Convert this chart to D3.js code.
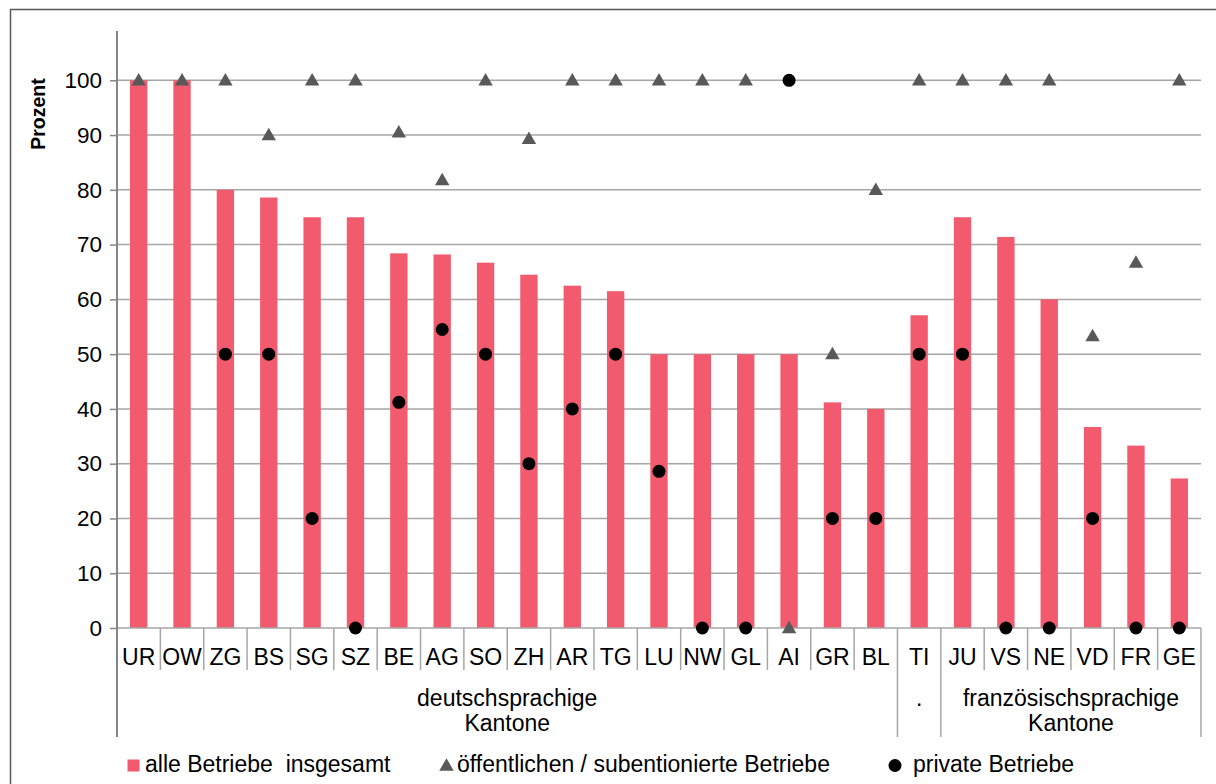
<!DOCTYPE html>
<html>
<head>
<meta charset="utf-8">
<script src="https://cdn.jsdelivr.net/npm/d3@7"></script>
<style>
  html, body { margin: 0; padding: 0; background: #fff; }
  svg { display: block; font-family: "Liberation Sans", Arial, sans-serif; }
  text { white-space: pre; }
</style>
</head>
<body>
<svg id="chart" width="1216" height="784"></svg>
<script>
// Kantone (x-axis categories)
const categories = ["UR","OW","ZG","BS","SG","SZ","BE","AG","SO","ZH","AR","TG","LU","NW","GL","AI","GR","BL","TI","JU","VS","NE","VD","FR","GE"];

// Anteil in Prozent: alle Betriebe insgesamt (bars)
const alleBetriebe = [100,100,80,78.6,75,75,68.4,68.2,66.7,64.5,62.5,61.5,50,50,50,50,41.2,40,57.1,75,71.4,60,36.7,33.3,27.3];

// öffentliche / subventionierte Betriebe (triangles)
const oeffentlich = [100,100,100,90,100,100,90.5,81.8,100,89.3,100,100,100,100,100,0,50,80,100,100,100,100,53.3,66.7,100];

// private Betriebe (dots); null = kein Wert
const privat = [null,null,50,50,20,0,41.2,54.5,50,30,40,50,28.6,0,0,100,20,20,50,50,0,0,20,0,0];

// y-axis tick labels
const yTicks = [0,10,20,30,40,50,60,70,80,90,100];

// Sprachgruppen: label lines, first and last canton
const groups = [
  { lines: ["deutschsprachige", "Kantone"], from: "UR", to: "BL" },
  { lines: ["."], from: "TI", to: "TI" },
  { lines: ["französischsprachige", "Kantone"], from: "JU", to: "GE" }
];

const legendItems = [
  { type: "bar", label: "alle Betriebe  insgesamt" },
  { type: "tri", label: "öffentlichen / subentionierte Betriebe" },
  { type: "dot", label: "private Betriebe" }
];

const colBar = "#F25B6E";
const colTri = "#595959";
const colDot = "#000000";
const colGrid = "#A6A6A6";
const colAxis = "#868686";
const fontSize = 23;

const svg = d3.select("#chart");

const plot = { left: 117, right: 1201, top: 31, bottom: 628 };

const x = d3.scaleBand()
  .domain(categories)
  .range([plot.left, plot.right])
  .paddingInner(0.6)
  .paddingOuter(0.3);
const step = x.step();
const cx = c => x(c) + x.bandwidth() / 2;

const y = d3.scaleLinear().domain([0, 109]).range([plot.bottom, plot.top]);

// outer frame
svg.append("path")
  .attr("d", `M10.5,784 V9.5 H1216`)
  .attr("fill", "none")
  .attr("stroke", "#595959")
  .attr("stroke-width", 1.5);

// horizontal gridlines
svg.append("g").selectAll("line")
  .data(yTicks.filter(t => t > 0))
  .join("line")
  .attr("x1", plot.left).attr("x2", plot.right)
  .attr("y1", d => y(d)).attr("y2", d => y(d))
  .attr("stroke", colGrid).attr("stroke-width", 1.5);

// y axis with outside ticks
const yAxis = d3.axisLeft(y).tickValues(yTicks).tickSize(7).tickPadding(8);
const gy = svg.append("g").attr("transform", `translate(${plot.left},0)`).call(yAxis);
gy.select(".domain").remove();
gy.selectAll(".tick line").attr("stroke", colAxis).attr("stroke-width", 1.5);
gy.selectAll(".tick text")
  .attr("font-size", 22.5)
  .attr("fill", "#000")
  .attr("font-family", "Liberation Sans, Arial, sans-serif");

// y-axis title
svg.append("text")
  .attr("transform", `translate(45,114) rotate(-90)`)
  .attr("text-anchor", "middle")
  .attr("font-size", 19.5)
  .attr("font-weight", "bold")
  .text("Prozent");

// bars
svg.append("g").selectAll("rect")
  .data(categories)
  .join("rect")
  .attr("x", c => x(c))
  .attr("width", x.bandwidth())
  .attr("y", (c, i) => y(alleBetriebe[i]))
  .attr("height", (c, i) => y(0) - y(alleBetriebe[i]))
  .attr("fill", colBar);

// baseline (x axis)
svg.append("line")
  .attr("x1", plot.left).attr("x2", plot.right)
  .attr("y1", y(0)).attr("y2", y(0))
  .attr("stroke", colGrid).attr("stroke-width", 1.5);

// category separators and labels
const tickBottom = 670, groupBottom = 737;
const groupEdges = new Set();
groups.forEach(g => {
  groupEdges.add(categories.indexOf(g.from));
  groupEdges.add(categories.indexOf(g.to) + 1);
});
const boundaries = d3.range(categories.length + 1);
svg.append("g").selectAll("line")
  .data(boundaries.filter(b => b > 0))
  .join("line")
  .attr("x1", b => plot.left + b * step).attr("x2", b => plot.left + b * step)
  .attr("y1", y(0))
  .attr("y2", b => groupEdges.has(b) ? groupBottom : tickBottom)
  .attr("stroke", colGrid).attr("stroke-width", 1.5);

svg.append("g").selectAll("text")
  .data(categories)
  .join("text")
  .attr("x", c => cx(c))
  .attr("y", 665)
  .attr("text-anchor", "middle")
  .attr("font-size", fontSize)
  .text(c => c);

// group labels
groups.forEach(g => {
  const mid = (x(g.from) + x(g.to) + x.bandwidth()) / 2;
  const t = svg.append("text")
    .attr("text-anchor", "middle")
    .attr("font-size", fontSize);
  g.lines.forEach((ln, k) => {
    t.append("tspan").attr("x", mid).attr("y", 706 + k * 24.5).text(ln);
  });
});

// y axis line, continuing down as the left edge of the group frame
svg.append("line")
  .attr("x1", plot.left).attr("x2", plot.left)
  .attr("y1", plot.top).attr("y2", groupBottom)
  .attr("stroke", colAxis).attr("stroke-width", 2);

// triangles
const tri = d3.symbol().type(d3.symbolTriangle).size(90);
svg.append("g").selectAll("path")
  .data(categories.map((c, i) => ({ c, v: oeffentlich[i] })).filter(d => d.v != null))
  .join("path")
  .attr("d", tri)
  .attr("transform", d => `translate(${cx(d.c)},${y(d.v) + 1})`)
  .attr("fill", colTri);

// dots
svg.append("g").selectAll("circle")
  .data(categories.map((c, i) => ({ c, v: privat[i] })).filter(d => d.v != null))
  .join("circle")
  .attr("cx", d => cx(d.c))
  .attr("cy", d => y(d.v))
  .attr("r", 6.5)
  .attr("fill", colDot);

// legend: marker centre x, text start x
const legendMarkX = [133.5, 446.5, 895];
const legendTextX = [145, 457, 913];
const legendY = 765.5;
const lg = svg.append("g");
legendItems.forEach((it, i) => {
  const g = lg.append("g");
  const mx = legendMarkX[i];
  if (it.type === "bar") {
    g.append("rect").attr("x", mx - 6).attr("y", legendY - 6).attr("width", 12).attr("height", 12).attr("fill", colBar);
  } else if (it.type === "tri") {
    g.append("path").attr("d", tri).attr("transform", `translate(${mx},${legendY + 1})`).attr("fill", colTri);
  } else {
    g.append("circle").attr("cx", mx).attr("cy", legendY).attr("r", 6.5).attr("fill", colDot);
  }
  g.append("text")
    .attr("x", legendTextX[i])
    .attr("y", 772)
    .attr("font-size", fontSize)
    .text(it.label);
});
</script>
</body>
</html>
